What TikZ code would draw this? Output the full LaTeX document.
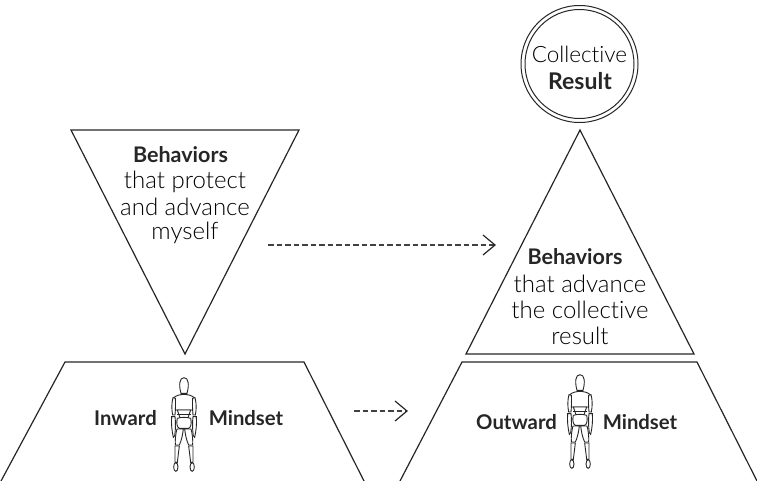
\documentclass[tikz,border=0pt]{standalone}
\usepackage{fontspec}
\setmainfont{Lato}
\newfontfamily\lightf[Ligatures=NoCommon]{Lato Light}
\usetikzlibrary{arrows.meta}
\tikzset{
 shape line/.style={draw=black!85,line width=1.2pt,line join=miter},
 light/.style={font=\lightf\fontsize{24}{28}\selectfont,text=black,align=center,inner sep=0pt},
 lightsmall/.style={light,font=\lightf\fontsize{22.5}{28}\selectfont},
 heavy/.style={font=\bfseries\fontsize{21.5}{24}\selectfont,text=black!85,align=center,inner sep=0pt},
 resultstyle/.style={heavy,font=\bfseries\fontsize{23}{24}\selectfont},
 heavysmall/.style={heavy,font=\bfseries\fontsize{20.3}{22}\selectfont},
 flow/.style={draw=black!75,line width=1.2pt,dash pattern=on 5.5pt off 3pt},
 chevron/.style={draw=black!85,line width=1.2pt},
 figline/.style={draw=black!85,line width=.9pt,fill=white},
 mannequin/.pic={
  \begin{scope}[x=.3333pt,y=-.3333pt]
   \path[figline] (-9,85) .. controls (-16,60) and (-14,38) .. (0,38) .. controls (14,38) and (16,60) .. (9,85) -- cycle;
   \path[figline] (-32,100) .. controls (-28,92) and (-10,88) .. (0,88) .. controls (10,88) and (28,92) .. (32,100) -- (27,135) -- (-27,135)-- cycle;
   \path[figline] (-33,98) .. controls (-38,115) and (-37,135) .. (-34,150) -- (-27,150) .. controls (-25,130) and (-25,110) .. (-26,100) -- cycle;
   \path[figline] (33,98) .. controls (38,115) and (37,135) .. (34,150) -- (27,150) .. controls (25,130) and (25,110) .. (26,100) -- cycle;
   \path[figline] (-37,155) .. controls (-39,175) and (-36,200) .. (-32,217) -- (-28,212) .. controls (-25,195) and (-25,170) .. (-27,155) -- cycle;
   \path[figline] (37,155) .. controls (39,175) and (36,200) .. (32,217) -- (28,212) .. controls (25,195) and (25,170) .. (27,155) -- cycle;
   \path[figline] (-20,135) -- (20,135) -- (12,158) -- (-12,158) -- cycle;
   \draw[figline,fill=none] (-20,148) -- (20,148);
   \path[figline] (-20,160) .. controls (-10,156) and (10,156) .. (20,160) .. controls (24,175) and (20,188) .. (14,190) -- (-14,190) .. controls (-20,188) and (-24,175) .. (-20,160) -- cycle;
   \path[figline] (-21,192) -- (-2,192) .. controls (-4,210) and (-8,228) .. (-14,240) -- (-26,240) .. controls (-27,225) and (-25,205) .. (-21,192) -- cycle;
   \path[figline] (21,192) -- (2,192) .. controls (4,210) and (8,228) .. (14,240) -- (26,240) .. controls (27,225) and (25,205) .. (21,192) -- cycle;
   \path[figline] (-27,243) -- (-14,243) -- (-20,292) -- (-27,292) -- cycle;
   \path[figline] (27,243) -- (14,243) -- (20,292) -- (27,292) -- cycle;
   \path[figline] (-24.5,306) ellipse[x radius=6.5,y radius=13];
   \path[figline] (24.5,306) ellipse[x radius=6.5,y radius=13];
  \end{scope}
 }
}
\begin{document}
\begin{tikzpicture}[x=1pt,y=-1pt]
\useasboundingbox (0,0) rectangle (757,480);
% shapes
\draw[shape line] (71,130) -- (299,130) -- (185,354) -- cycle;
\draw[shape line] (580,130) -- (694,354) -- (466,354) -- cycle;
\draw[shape line] (1,481) -- (65,362) -- (304,362) -- (364,481);
\draw[shape line] (400,481) -- (462,362) -- (697,362) -- (757,481);
\node[circle,draw=black!85,line width=1pt,minimum size=117pt,inner sep=0pt] (outer) at (579.5,64) {};
\node[circle,draw=black!85,line width=1pt,minimum size=109pt,inner sep=0pt] (inner) at (579.5,64) {};
% labels
\node[lightsmall] (coll) at (579.5,54.5) {Collective};
\node[resultstyle] (res) at (580,81) {Result};
\node[heavy] (b1) at (180.5,155) {Behaviors};
\node[light] (t1a) at (185,182) {that protect};
\node[light] (t1b) at (185,207) {and advance};
\node[light] (t1c) at (185,233) {myself};
\node[heavy] (b2) at (575,257) {Behaviors};
\node[light] (t2a) at (580,284) {that advance};
\node[light] (t2b) at (580,310) {the collective};
\node[light] (t2c) at (580,336) {result};
\node[heavysmall] (inw) at (125.5,418.5) {Inward};
\node[heavysmall] (mi1) at (246,418.5) {Mindset};
\node[heavysmall] (out) at (516.5,422) {Outward};
\node[heavysmall] (mi2) at (640,422) {Mindset};
% figures
\pic at (184,365) {mannequin};
\pic at (580,362) {mannequin};
% connectors
\coordinate (a1s) at (268,245); \coordinate (a1e) at (495,245);
\coordinate (a2s) at (354,411); \coordinate (a2e) at (407,411);
\draw[flow] (a1s) -- (a1e);
\draw[chevron] ([shift={(-12,-10)}]a1e) -- (a1e) -- ([shift={(-12,10)}]a1e);
\draw[flow] (a2s) -- (a2e);
\draw[chevron] ([shift={(-12,-10)}]a2e) -- (a2e) -- ([shift={(-12,10)}]a2e);
\end{tikzpicture}
\end{document}
